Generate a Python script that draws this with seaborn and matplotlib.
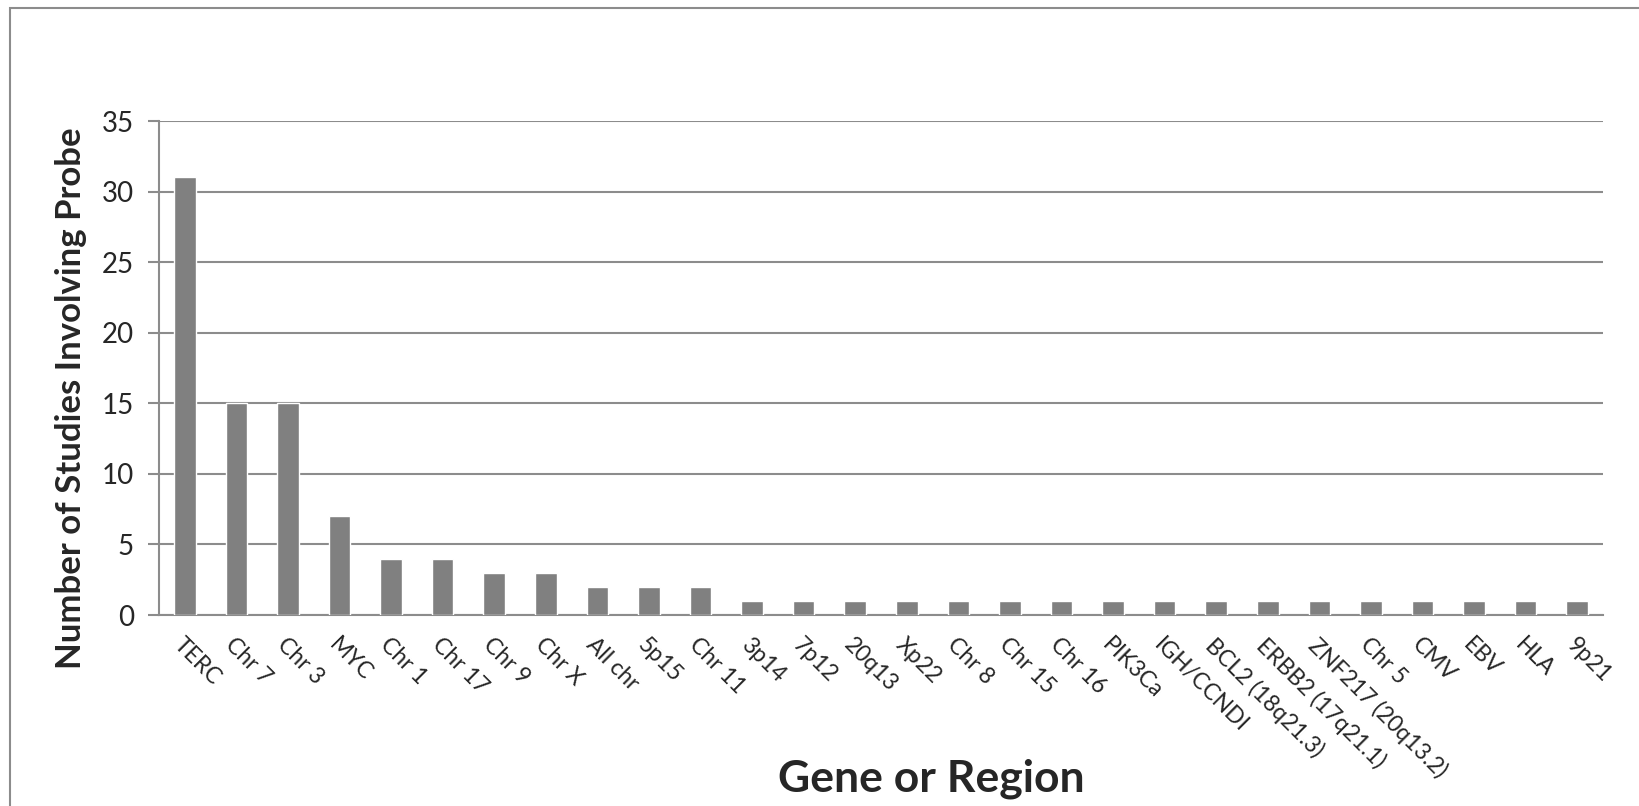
import matplotlib
matplotlib.use("Agg")
import matplotlib.pyplot as plt
from matplotlib.patches import Rectangle
import seaborn as sns
import pandas as pd

probes = ["TERC", "Chr 7", "Chr 3", "MYC", "Chr 1", "Chr 17", "Chr 9", "Chr X",
          "All chr", "5p15", "Chr 11", "3p14", "7p12", "20q13", "Xp22", "Chr 8",
          "Chr 15", "Chr 16", "PIK3Ca", "IGH/CCNDI", "BCL2 (18q21.3)",
          "ERBB2 (17q21.1)", "ZNF217 (20q13.2)", "Chr 5", "CMV", "EBV", "HLA", "9p21"]
studies = [31, 15, 15, 7, 4, 4, 3, 3, 2, 2, 2, 1, 1, 1, 1, 1,
           1, 1, 1, 1, 1, 1, 1, 1, 1, 1, 1, 1]
y_ticks = [0, 5, 10, 15, 20, 25, 30, 35]

df = pd.DataFrame({"probe": probes, "studies": studies})

sns.set_theme(style="white")
plt.rcParams["font.family"] = ["Lato", "DejaVu Sans"]

fig = plt.figure(figsize=(16.4, 8.06), dpi=100)
ax = fig.add_axes([159 / 1640, 1 - 615 / 806, (1603 - 159) / 1640, (615 - 121) / 806])

sns.barplot(data=df, x="probe", y="studies", color="#808080", saturation=1,
            width=0.42, ax=ax, zorder=3)

ax.set_ylim(0, 35)
ax.set_xlim(-0.5, len(probes) - 0.5)
ax.set_yticks(y_ticks)
ax.set_yticklabels([str(t) for t in y_ticks], fontsize=20)
ax.yaxis.grid(True, color="#8c8c8c", linewidth=1.5, zorder=0)
ax.tick_params(axis="y", length=8, width=1.5, color="#8c8c8c", pad=10, left=True)
ax.tick_params(axis="x", length=0, pad=14)
for lbl in ax.get_xticklabels():
    lbl.set_rotation(-45)
    lbl.set_ha("left")
    lbl.set_va("top")
    lbl.set_rotation_mode("anchor")
    lbl.set_fontsize(16.5)

for side in ["top", "right"]:
    ax.spines[side].set_visible(False)
for side in ["left", "bottom"]:
    ax.spines[side].set_color("#8c8c8c")
    ax.spines[side].set_linewidth(1.5)

ax.set_xlabel("")
ax.set_ylabel("")
fig.text(71 / 1640, 1 - 398 / 806, "Number of Studies Involving Probe",
         rotation=90, ha="center", va="center", fontsize=25, fontweight="bold")
fig.text(931 / 1640, 1 - 779 / 806, "Gene or Region",
         ha="center", va="center", fontsize=32, fontweight="bold")

# chart area frame, running off the right and bottom edges
fig.patches.append(Rectangle((10 / 1640, -0.1), 1.2, 1 - 8 / 806 + 0.1,
                             transform=fig.transFigure, fill=False,
                             edgecolor="#8c8c8c", linewidth=1.5, zorder=0))

fig.savefig("out.png", dpi=100, facecolor="white")
